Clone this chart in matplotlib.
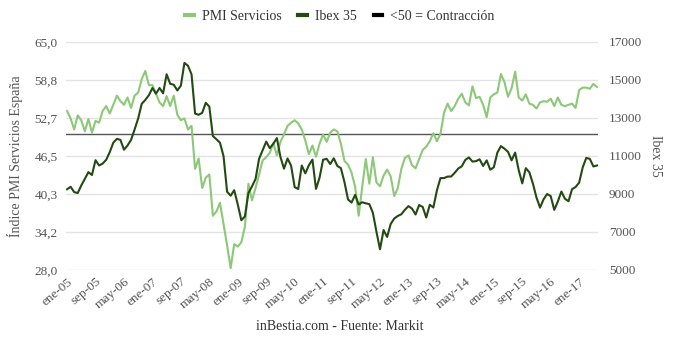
import matplotlib
matplotlib.use("Agg")
import matplotlib.pyplot as plt
from matplotlib.lines import Line2D

plt.rcParams['font.family'] = ['Liberation Serif', 'DejaVu Serif']

months_es = ['ene', 'feb', 'mar', 'abr', 'may', 'jun', 'jul', 'ago', 'sep', 'oct', 'nov', 'dic']
start_year = 2005

pmi_servicios = [
    53.8, 52.6, 50.8, 53.1, 52.3, 50.5, 52.5, 50.3, 52.2, 51.9,
    53.8, 54.6, 53.4, 54.8, 56.3, 55.4, 54.8, 56.0, 54.3, 56.3,
    56.8, 59.0, 60.3, 58.0, 58.0, 56.6, 55.2, 54.6, 56.2, 54.6,
    56.3, 53.2, 52.3, 52.6, 50.8, 51.4, 44.4, 46.1, 41.3, 43.0,
    43.5, 36.8, 37.5, 38.9, 35.5, 32.0, 28.3, 32.2, 31.8, 32.5,
    35.0, 42.0, 39.3, 41.3, 43.5, 45.8, 46.3, 47.0, 48.6, 46.6,
    48.8, 50.0, 51.4, 51.9, 52.3, 51.8, 50.8, 49.0, 46.8, 48.2,
    46.4, 48.5, 50.0, 48.8, 50.3, 50.8, 50.5, 48.5, 45.7, 45.1,
    43.8, 41.5, 36.8, 41.5, 46.0, 42.0, 46.3, 42.2, 41.6, 43.3,
    44.3, 43.2, 40.0, 41.3, 44.4, 46.2, 46.6, 45.0, 44.5, 46.0,
    47.5, 48.0, 48.9, 50.2, 48.9, 50.1, 53.5, 55.0, 53.8, 54.6,
    55.8, 56.6, 55.2, 54.7, 57.8, 55.9, 56.1, 54.8, 52.8, 56.0,
    56.5, 56.8, 59.8, 58.5, 56.1, 57.5, 60.2, 56.0, 55.5, 56.5,
    55.0, 54.8, 54.2, 55.2, 55.4, 55.3, 55.8, 54.6, 56.0, 54.8,
    54.6, 54.8, 55.0, 54.3, 57.2, 57.6, 57.6, 57.4, 58.2, 57.7,
]

ibex35 = [
    9250, 9380, 9100, 9050, 9450, 9800, 10150, 10000, 10780, 10500,
    10600, 10800, 11200, 11700, 11900, 11850, 11330, 11550, 11850, 12400,
    12980, 13750, 13950, 14200, 14580, 14280, 14580, 14300, 15300, 14800,
    14750, 14450, 14700, 15900, 15750, 15300,
    13230, 13170, 13270, 13800, 13600, 12050, 11880, 11700, 10990, 9120,
    8910, 9200, 8450, 7620, 7815, 9050, 9400, 9790, 10855, 11300,
    11756, 11414, 11644, 11940, 10947, 10333, 10871, 10492, 9360, 9263,
    10499, 10087, 10514, 10812, 9267, 9859, 10806, 10850, 10576, 10879,
    10476, 10360, 9630, 8718, 8546, 8955, 8449, 8566, 8510, 8465,
    8008, 7011, 6089, 7102, 6738, 7420, 7708, 7843, 7935, 8168,
    8362, 8230, 7920, 8419, 8320, 7762, 8434, 8290, 9186, 9838,
    9837, 9917, 9920, 10114, 10340, 10459, 10798, 10923, 10707, 10728,
    10825, 10477, 10770, 10280, 10403, 11178, 11521, 11385, 11218, 10770,
    11180, 10259, 9559, 10360, 10141, 9544, 8815, 8282, 8724, 9000,
    8890, 8163, 8600, 9130, 8750, 8620, 9250, 9370, 9600, 10400,
    10900, 10850, 10450, 10500,
]

contraccion_level = 50

left_ticks = [28.0, 34.1667, 40.3333, 46.5, 52.6667, 58.8333, 65.0]
left_tick_labels = ['28,0', '34,2', '40,3', '46,5', '52,7', '58,8', '65,0']
right_ticks = [5000, 7000, 9000, 11000, 13000, 15000, 17000]
right_tick_labels = ['5000', '7000', '9000', '11000', '13000', '15000', '17000']

month_labels = [f"{months_es[i % 12]}-{(start_year + i // 12) % 100:02d}" for i in range(len(pmi_servicios))]
tick_step = 8

c_pmi = '#8cc878'
c_ibex = '#234a12'
c_line = '#555555'
c_text = '#555555'

fig = plt.figure(figsize=(6.8, 3.44), dpi=100)
ax = fig.add_axes([66 / 680, 1 - 270 / 344, 532 / 680, 228 / 344])
ax2 = ax.twinx()

x_pmi = list(range(len(pmi_servicios)))
x_ibex = list(range(len(ibex35)))

ax.plot(x_pmi, pmi_servicios, color=c_pmi, lw=1.5, solid_joinstyle='round', zorder=3)
ax.axhline(contraccion_level, color=c_line, lw=1.0, zorder=2)
ax2.plot(x_ibex, ibex35, color=c_ibex, lw=1.5, solid_joinstyle='round', zorder=3)

n = len(pmi_servicios)
ax.set_xlim(-0.3, n - 1 + 0.3)
ax.set_ylim(28, 65)
ax2.set_ylim(5000, 17000)

ax.set_yticks(left_ticks)
ax.set_yticklabels(left_tick_labels)
ax2.set_yticks(right_ticks)
ax2.set_yticklabels(right_tick_labels)

ax.grid(axis='y', color='#e3e3e3', lw=1.0, zorder=0)
ax.set_axisbelow(True)

xt = list(range(0, n, tick_step))
ax.set_xticks(xt)
ax.set_xticklabels([month_labels[i] for i in xt], rotation=40, ha='right', va='top',
                   rotation_mode='anchor', fontsize=9.5, color=c_text)

for a in (ax, ax2):
    for s in a.spines.values():
        s.set_visible(False)
    a.tick_params(axis='both', length=0, labelsize=9.5, labelcolor=c_text)
ax.tick_params(axis='y', pad=6)
ax2.tick_params(axis='y', pad=8)
ax.tick_params(axis='x', pad=4)

ax.set_ylabel('Índice PMI Servicios España', fontsize=10, color=c_text, labelpad=8)
ax2.set_ylabel('Ibex 35', fontsize=10, color=c_text, rotation=270, labelpad=14)

handles = [
    Line2D([0], [0], color=c_pmi, lw=3),
    Line2D([0], [0], color=c_ibex, lw=3),
    Line2D([0], [0], color='#000000', lw=3),
]
fig.legend(handles, ['PMI Servicios', 'Ibex 35', '<50 = Contracción'], loc='center',
           bbox_to_anchor=(0.5, 1 - 16 / 344), ncol=3, frameon=False, fontsize=10,
           handlelength=0.6, handletextpad=0.6, columnspacing=1.2, labelcolor='#333333')

fig.text(0.5, 1 - 327 / 344, 'inBestia.com - Fuente: Markit', ha='center', va='center',
         fontsize=10, color='#333333')

fig.savefig('out.png', dpi=100)
